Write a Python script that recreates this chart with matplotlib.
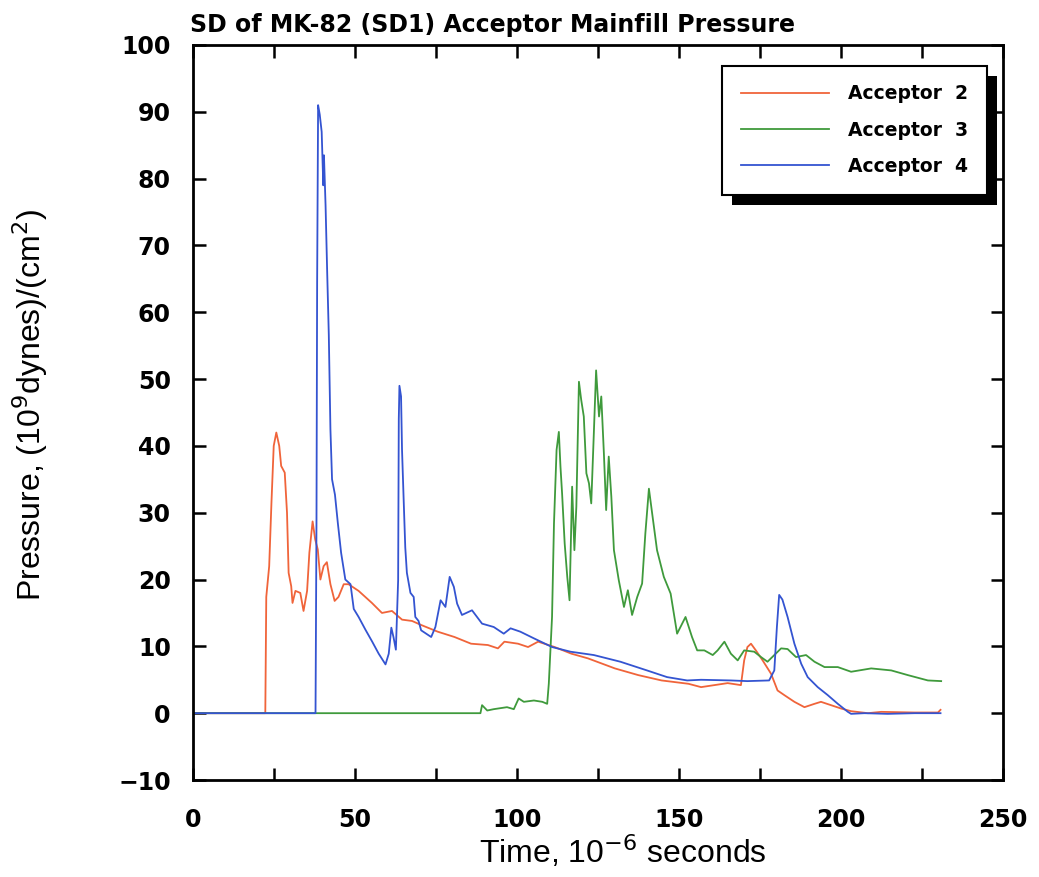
"""Recreate the SD of MK-82 acceptor mainfill pressure chart."""

import matplotlib

matplotlib.use("Agg")
from matplotlib import pyplot as plt
from matplotlib.patches import Rectangle
from matplotlib.ticker import MultipleLocator

# Acceptor 2 (orange)
t_acc2 = [0, 22.3, 22.6, 23.5, 24.2, 24.9, 25.7, 26.6, 27.2, 28.3, 29.0, 29.5, 30.3, 30.7,
          31.6, 33.1, 34.1, 35.2, 35.9, 36.9, 37.7, 38.5, 39.3, 40.3, 41.3, 42.4, 43.7,
          44.9, 46.5, 48.0, 51.1, 55.2, 58.3, 61.4, 64.5, 67.6, 70.4, 75.5, 80.7, 85.8,
          91.0, 94.1, 96.1, 100.3, 103.4, 106.5, 111.6, 116.8, 121.9, 130.2, 137.4, 144.6,
          152.9, 156.8, 160.9, 165.0, 169.1, 170.1, 171.1, 172.2, 173.7, 175.8, 178.4,
          180.4, 182.5, 185.6, 188.7, 191.8, 193.8, 196.9, 200.0, 203.1, 208.3, 212.4,
          222.7, 229.9, 230.7]
p_acc2 = [0, 0, 17.4, 22.0, 31.5, 40.0, 42.0, 40.0, 37.0, 36.0, 30.0, 21.0, 19.0, 16.5,
          18.3, 18.0, 15.3, 18.3, 24.0, 28.7, 26.0, 24.5, 20.0, 22.0, 22.6, 19.3, 16.8,
          17.4, 19.3, 19.3, 18.3, 16.5, 15.0, 15.3, 14.0, 13.8, 13.2, 12.2, 11.4, 10.4,
          10.2, 9.7, 10.7, 10.4, 9.9, 10.7, 9.9, 8.9, 8.2, 6.7, 5.7, 4.9,
          4.4, 3.9, 4.2, 4.5, 4.2, 7.9, 9.9, 10.4, 9.4, 7.9, 5.9,
          3.4, 2.7, 1.7, 0.9, 1.4, 1.7, 1.2, 0.7, 0.3, 0.0, 0.2,
          0.1, 0.1, 0.5]

# Acceptor 3 (green)
t_acc3 = [0, 88.7, 89.2, 90.8, 92.8, 96.9, 99.0, 100.5, 102.1, 105.2, 107.8, 109.3, 109.8,
          110.8, 111.4, 112.2, 112.9, 113.4, 113.9, 114.7, 115.5, 116.2, 117.0, 117.7,
          118.3, 119.1, 119.8, 120.6, 121.4, 122.2, 122.9, 123.7, 124.4, 125.3, 126.0,
          126.8, 127.5, 128.3, 129.1, 129.9, 131.4, 133.0, 134.2, 135.5, 137.1, 138.6,
          139.6, 140.7, 141.7, 143.2, 145.3, 147.4, 149.4, 152.0, 154.0, 155.6, 157.8,
          160.4, 161.9, 164.0, 166.0, 168.1, 170.1, 173.2, 175.3, 177.3, 179.4, 181.5,
          183.5, 186.1, 189.2, 191.8, 194.9, 199.0, 203.1, 209.3, 215.5, 220.6, 226.8,
          230.9]
p_acc3 = [0, 0, 1.2, 0.4, 0.6, 0.9, 0.6, 2.2, 1.7, 1.9, 1.7, 1.4, 4.4,
          14.4, 28.4, 39.4, 42.1, 36.9, 32.9, 25.4, 20.4, 16.9, 33.9, 24.4,
          30.9, 49.6, 46.9, 44.4, 35.9, 34.4, 31.4, 41.9, 51.3, 44.4, 47.4,
          38.9, 30.4, 38.4, 32.4, 24.4, 19.9, 15.9, 18.4, 14.7, 17.4, 19.4,
          26.9, 33.6, 29.9, 24.4, 20.4, 17.9, 11.9, 14.4, 11.4, 9.4, 9.4,
          8.7, 9.4, 10.7, 8.9, 7.9, 9.4, 9.2, 8.4, 7.7, 8.7, 9.7,
          9.6, 8.4, 8.7, 7.7, 6.9, 6.9, 6.2, 6.7, 6.4, 5.7, 4.9,
          4.8]

# Acceptor 4 (blue)
t_acc4 = [0, 37.8, 37.9, 38.1, 38.3, 38.6, 39.1, 39.7, 40.2, 40.4, 40.9, 41.4, 41.9, 42.4,
          42.9, 43.8, 44.7, 45.7, 47.0, 48.6, 49.6, 51.1, 53.2, 55.3, 57.3, 59.4, 60.4,
          61.2, 61.9, 62.6, 63.3, 63.5, 63.7, 64.2, 64.5, 65.0, 65.5, 66.0, 67.1, 68.1,
          68.6, 69.6, 70.4, 73.5, 74.8, 76.4, 77.9, 79.2, 80.5, 81.5, 83.0, 86.1, 89.2,
          92.8, 95.9, 98.0, 101.0, 105.2, 110.8, 116.5, 123.7, 131.9, 140.1, 146.3,
          152.5, 156.8, 166.0, 171.1, 177.8, 179.4, 180.2, 180.9, 181.9, 183.5, 185.6,
          187.7, 189.7, 192.8, 195.9, 199.0, 202.1, 203.1, 207.2, 214.4, 222.7, 230.7]
p_acc4 = [0, 0, 9.5, 29.0, 64.5, 91.0, 89.6, 87.0, 79.0, 83.5, 76.0, 66.0, 56.6, 42.5,
          35.0, 32.7, 28.4, 24.0, 20.0, 19.3, 15.6, 14.4, 12.5, 10.7, 8.9, 7.3, 8.9,
          12.8, 11.3, 9.5, 19.9, 44.0, 49.0, 47.4, 39.4, 32.0, 24.8, 21.0, 18.0, 17.4,
          14.4, 13.8, 12.4, 11.4, 12.9, 16.9, 15.9, 20.4, 18.9, 16.4, 14.7, 15.4, 13.4,
          12.9, 11.9, 12.7, 12.2, 11.2, 9.9, 9.2, 8.7, 7.7, 6.4, 5.4,
          4.9, 5.0, 4.9, 4.8, 4.9, 6.4, 12.9, 17.7, 17.0, 14.4, 10.4,
          7.4, 5.4, 3.9, 2.7, 1.4, 0.2, -0.1, 0.0, -0.1, 0.0, 0.0]

series = [
    ("Acceptor  2", t_acc2, p_acc2, "#f0643a"),
    ("Acceptor  3", t_acc3, p_acc3, "#3f9a3c"),
    ("Acceptor  4", t_acc4, p_acc4, "#3454d1"),
]

fig = plt.figure(figsize=(10.39, 8.77), dpi=100)
ax = fig.add_axes([0.1858, 0.1106, 0.7796, 0.8381])

for label, t, p, color in series:
    ax.plot(t, p, color=color, lw=1.3, label=label)

ax.set_xlim(0, 250)
ax.set_ylim(-10, 100)
ax.xaxis.set_major_locator(MultipleLocator(50))
ax.xaxis.set_minor_locator(MultipleLocator(25))
ax.yaxis.set_major_locator(MultipleLocator(10))
ax.tick_params(which="both", direction="in", top=True, right=True,
               length=9, width=1.8)
ax.tick_params(axis="y", pad=16)
ax.tick_params(axis="x", pad=20)
for lbl in ax.get_xticklabels() + ax.get_yticklabels():
    lbl.set_fontweight("bold")
    lbl.set_fontsize(17)
for spine in ax.spines.values():
    spine.set_linewidth(2)

ax.set_xlabel("Time, 10$^{-6}$ seconds", family="Liberation Sans", fontsize=23)
ax.set_ylabel("Pressure, (10$^9$dynes)/(cm$^2$)", family="Liberation Sans",
              fontsize=23)
ax.xaxis.set_label_coords(0.53, -0.072)
ax.yaxis.set_label_coords(-0.176, 0.51)
fig.text(0.183, 0.972, "SD of MK-82 (SD1) Acceptor Mainfill Pressure",
         fontsize=17, fontweight="bold", ha="left", va="center")

leg = ax.legend(loc="upper right", bbox_to_anchor=(0.98, 0.972), fancybox=False,
                edgecolor="black", framealpha=1, borderaxespad=0,
                prop={"weight": "bold", "size": 13.5}, handlelength=4.7,
                handletextpad=1.0, labelspacing=0.92, borderpad=1.0)
leg.get_frame().set_linewidth(1.5)
leg.set_zorder(5)

# solid black drop shadow behind the legend
fig.canvas.draw()
bb = leg.get_window_extent().transformed(fig.transFigure.inverted())
dx, dy = 10 / fig.bbox.width, 10 / fig.bbox.height
ax.add_patch(Rectangle((bb.x0 + dx, bb.y0 - dy), bb.width, bb.height,
                       transform=fig.transFigure, facecolor="black",
                       edgecolor="none", zorder=4.5, clip_on=False))

fig.savefig("out.png", dpi=100)
